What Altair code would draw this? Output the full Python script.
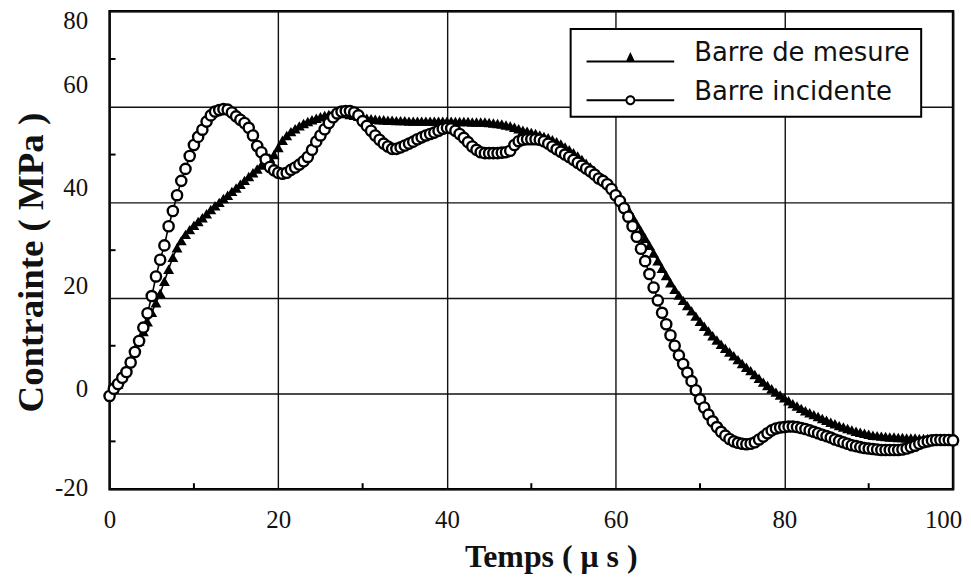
import altair as alt
import pandas as pd

# sample times (µs), one sample every 0.5 µs
time_us = [i * 0.5 for i in range(201)]

# "Barre de mesure" (triangles), MPa
barre_mesure = [
    0, 1, 2, 3.5, 5, 7, 9, 11, 13, 15,
    17, 19, 21, 23.5, 26, 28.5, 30.5, 32, 33.3, 34.3,
    35.2, 36, 36.8, 37.6, 38.5, 39.3, 40, 40.8, 41.5, 42.3,
    43, 43.8, 44.6, 45.4, 46.2, 47, 47.8, 48.6, 49.3, 50,
    51.5, 53, 54, 54.8, 55.4, 56, 56.5, 56.9, 57.3, 57.6,
    57.9, 58.2, 58.4, 58.6, 58.7, 58.7, 58.6, 58.4, 58.2, 58,
    57.8, 57.6, 57.5, 57.4, 57.3, 57.3, 57.2, 57.2, 57.1, 57.1,
    57.1, 57, 57, 57, 57, 57, 57, 57, 57, 57,
    57, 57, 56.9, 56.9, 56.9, 56.9, 56.8, 56.8, 56.8, 56.8,
    56.7, 56.6, 56.5, 56.4, 56.2, 56, 55.7, 55.4, 55.1, 54.9,
    54.6, 54.4, 54.1, 53.8, 53.5, 53.1, 52.7, 52.2, 51.6, 51,
    50.4, 49.7, 49, 48.2, 47.4, 46.6, 45.8, 45, 44.2, 43.3,
    42.4, 41.2, 39.9, 38.5, 37, 35.5, 34, 32.5, 31, 29.4,
    27.8, 26.2, 24.7, 23.2, 21.8, 20.6, 19.5, 18.4, 17.3, 16.2,
    15.1, 14.1, 13.1, 12.1, 11.2, 10.3, 9.5, 8.7, 7.9, 7.1,
    6.3, 5.5, 4.8, 4, 3.2, 2.4, 1.7, 1, 0.3, -0.3,
    -0.9, -1.5, -2.1, -2.6, -3.1, -3.6, -4.0, -4.4, -4.8, -5.2,
    -5.6, -6.0, -6.3, -6.7, -7.0, -7.3, -7.6, -7.9, -8.1, -8.3,
    -8.5, -8.7, -8.8, -8.9, -9.0, -9.1, -9.1, -9.2, -9.2, -9.3,
    -9.3, -9.3, -9.4, -9.4, -9.4, -9.5, -9.5, -9.6, -9.6, -9.7,
    -9.8,
]

# "Barre incidente" (circles), MPa
barre_incidente = [
    -0.5, 1, 2, 3.3, 4.5, 6.5, 8.7, 11, 13.8, 16.8,
    20.4, 24.5, 28, 31, 35, 38.2, 41.5, 44.5, 47, 49.7,
    52, 53.7, 55.2, 56.9, 58.2, 59, 59.3, 59.5, 59.4, 58.8,
    58, 57.3, 56.6, 55.6, 54, 51.8, 50.5, 49, 47.4, 46.7,
    46.2, 46, 46.2, 46.8, 47.3, 47.9, 48.6, 49.5, 51, 52.7,
    54, 55.3, 56.6, 57.8, 58.6, 59, 59.1, 59.1, 58.8, 58.2,
    57, 56, 55, 54, 53.1, 52.3, 51.7, 51.2, 51.2, 51.5,
    51.9, 52.3, 52.7, 53.2, 53.6, 54, 54.3, 54.6, 55, 55.4,
    55.6, 55.5, 55, 54.3, 53.5, 52.6, 51.7, 51, 50.5, 50.3,
    50.3, 50.3, 50.3, 50.4, 50.5, 50.8, 52, 52.8, 53.1, 53.2,
    53.2, 53.2, 53.1, 52.8, 52.3, 51.7, 51.1, 50.6, 50, 49.5,
    48.9, 48.3, 47.7, 47.1, 46.5, 45.8, 45, 44.5, 43.8, 42.8,
    41.5, 40.3, 38.8, 37, 35, 32.8, 30.3, 27.7, 25, 22.2,
    19.5, 16.9, 14.5, 12.2, 10, 8, 6.2, 4.4, 2.6, 0.7,
    -1.2, -2.9, -4.4, -5.8, -7, -8, -8.8, -9.5, -10, -10.3,
    -10.5, -10.6, -10.5, -10.2, -9.6, -9, -8.3, -7.7, -7.3, -7.1,
    -7, -6.9, -6.9, -7, -7.2, -7.4, -7.7, -8, -8.3, -8.6,
    -8.9, -9.2, -9.6, -9.9, -10.2, -10.5, -10.8, -11, -11.2, -11.4,
    -11.5, -11.6, -11.7, -11.8, -11.8, -11.8, -11.8, -11.8, -11.7, -11.5,
    -11.2, -10.9, -10.5, -10.2, -10, -9.8, -9.7, -9.7, -9.7, -9.7,
    -9.8,
]

series_names = ["Barre de mesure", "Barre incidente"]
x_ticks = [0, 20, 40, 60, 80, 100]
y_ticks = [-20, 0, 20, 40, 60, 80]
x_minor = [10, 30, 50, 70, 90]
y_minor = [-10, 10, 30, 50, 70]

n = len(time_us)
df = pd.DataFrame({
    "t": time_us + time_us,
    "v": barre_mesure + barre_incidente,
    "s": [series_names[0]] * n + [series_names[1]] * n,
})
df_m = df[df["s"] == series_names[0]]
df_i = df[df["s"] == series_names[1]]

W, H = 847, 480
SERIF = "Liberation Serif"

xscale = alt.Scale(domain=[0, 100], nice=False, zero=False)
yscale = alt.Scale(domain=[-20, 80], nice=False, zero=False)

x_label_offset = {"condition": {"test": "datum.value == 100", "value": -10}, "value": 0}
y_label_offset = {
    "condition": [
        {"test": "datum.value == 80", "value": 9},
        {"test": "datum.value == 60", "value": -22},
        {"test": "datum.value == 40", "value": -15},
        {"test": "datum.value == 20", "value": -12},
        {"test": "datum.value == 0", "value": -5},
    ],
    "value": -2,
}

xaxis = alt.Axis(values=x_ticks, grid=True, gridColor="#111", gridWidth=1.4,
                 ticks=False, domain=False, labelFont=SERIF, labelFontSize=25,
                 labelColor="#111", labelPadding=18, labelFlush=False,
                 labelExpr="'' + datum.value", labelOffset=x_label_offset,
                 title="Temps ( μ s )", titleFont=SERIF, titleFontSize=32,
                 titleFontWeight="bold", titleColor="#111",
                 titleX=443, titleY=78, titleBaseline="alphabetic")
yaxis = alt.Axis(values=y_ticks, grid=True, gridColor="#111", gridWidth=1.4,
                 ticks=False, domain=False, labelFont=SERIF, labelFontSize=25,
                 labelColor="#111", labelPadding=22, labelFlush=False,
                 labelExpr="'' + datum.value", labelOffset=y_label_offset,
                 title="Contrainte ( MPa )", titleFont=SERIF, titleFontSize=37,
                 titleFontWeight="bold", titleColor="#111",
                 titleX=-67, titleY=252, titleBaseline="alphabetic")

X = alt.X("t:Q", scale=xscale, axis=xaxis)
Y = alt.Y("v:Q", scale=yscale, axis=yaxis)

lines = alt.Chart(df).mark_line(color="black", strokeWidth=1.6).encode(
    x=X, y=Y, detail="s:N")

tri = alt.Chart(df_m).mark_point(shape="triangle-up", filled=True, color="black",
                                 size=120, opacity=1).encode(x=X, y=Y)

circ = alt.Chart(df_i).mark_point(shape="circle", filled=True, fill="white",
                                  stroke="black", strokeWidth=2.4, size=105,
                                  opacity=1).encode(x=X, y=Y)

# legend glyphs: a line with the marker on it (all filled shapes, unit = 5 px)
tri_path = "M-8.8,1.5H8.8V1.9H-8.8Z M-1,1.9L0,-0.2L1,1.9Z"
circ_path = ("M-8.8,1.5H-1V1.9H-8.8Z M1,1.5H8.8V1.9H1Z "
             "M-1,1.7A1,1 0 1,1 1,1.7A1,1 0 1,1 -1,1.7Z "
             "M-0.6,1.7A0.6,0.6 0 1,0 0.6,1.7A0.6,0.6 0 1,0 -0.6,1.7Z")

leg = alt.Legend(title=None, orient="none", legendX=463, legendY=18,
                 symbolSize=100, symbolFillColor="black", symbolStrokeWidth=0,
                 symbolOpacity=1, symbolOffset=36, labelOffset=51,
                 labelFont="DejaVu Sans", labelFontSize=26, labelColor="#111",
                 labelLimit=400,
                 rowPadding=13, padding=11, strokeColor="black", fillColor="white")

legend_layer = alt.Chart(df).mark_point(opacity=0, filled=True, color="black").encode(
    x=X, y=Y,
    shape=alt.Shape("s:N", scale=alt.Scale(domain=series_names, range=[tri_path, circ_path]), legend=leg),
)

xm = alt.Chart(pd.DataFrame({"t": x_minor})).mark_rule(color="black", strokeWidth=2).encode(
    x=X, y=alt.value(H), y2=alt.value(H - 6))
ym = alt.Chart(pd.DataFrame({"v": y_minor})).mark_rule(color="black", strokeWidth=2).encode(
    y=Y, x=alt.value(0), x2=alt.value(6))

chart = alt.layer(lines, xm, ym, tri, circ, legend_layer).properties(
    width=W, height=H,
    autosize=alt.AutoSizeParams(type="none"),
    padding={"left": 102, "top": 2, "right": 10, "bottom": 85},
).configure_view(stroke="black", strokeWidth=2.5).configure_legend(strokeWidth=2)

chart.save("out.html", embed_options={"renderer": "svg", "actions": False})
